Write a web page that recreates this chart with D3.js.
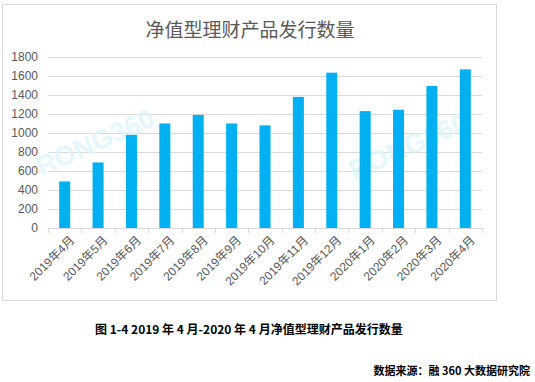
<!DOCTYPE html>
<html>
<head>
<meta charset="utf-8">
<script src="https://cdn.jsdelivr.net/npm/d3@7"></script>
<style>
  body { margin: 0; background: #fff; }
  svg { display: block; font-family: "Liberation Sans", Arial, "Noto Sans CJK SC", sans-serif; }
</style>
</head>
<body>
<svg></svg>
<script>
var width = 535, height = 382;

var months = ["2019年4月", "2019年5月", "2019年6月", "2019年7月", "2019年8月", "2019年9月", "2019年10月",
              "2019年11月", "2019年12月", "2020年1月", "2020年2月", "2020年3月", "2020年4月"];
var counts = [490, 690, 980, 1100, 1190, 1100, 1080, 1380, 1635, 1230, 1245, 1495, 1670];
var yTicks = [0, 200, 400, 600, 800, 1000, 1200, 1400, 1600, 1800];

var margin = {left: 48, right: 53, top: 57, bottom: 154};

var svg = d3.select('svg')
    .attr('width', width)
    .attr('height', height);

// chart frame
svg.append('rect')
    .attr('x', 2.5).attr('y', 4.5)
    .attr('width', 494).attr('height', 296)
    .attr('fill', '#fff')
    .attr('stroke', '#d9d9d9');

var x = d3.scaleBand()
    .domain(months)
    .range([margin.left, width - margin.right])
    .paddingInner(0.67)
    .paddingOuter(0.335);

var y = d3.scaleLinear()
    .domain([0, 1800])
    .range([height - margin.bottom, margin.top]);

// gridlines
svg.append('g')
    .selectAll('line')
    .data(yTicks.slice(1))
    .enter()
    .append('line')
        .attr('x1', margin.left)
        .attr('x2', width - margin.right)
        .attr('y1', d => Math.round(y(d)) + 0.5)
        .attr('y2', d => Math.round(y(d)) + 0.5)
        .attr('stroke', '#d9d9d9');

// y labels
svg.append('g')
    .selectAll('text')
    .data(yTicks)
    .enter()
    .append('text')
        .attr('x', 38)
        .attr('y', d => y(d))
        .attr('dy', '0.35em')
        .attr('text-anchor', 'end')
        .attr('font-size', 12)
        .attr('fill', '#595959')
        .text(d => d);

// watermarks
var marks = [{x: 95, y: 142}, {x: 408, y: 146}];
svg.append('g')
    .selectAll('text')
    .data(marks)
    .enter()
    .append('text')
        .attr('transform', d => `translate(${d.x},${d.y}) rotate(-24)`)
        .attr('text-anchor', 'middle')
        .attr('dy', '0.35em')
        .attr('font-size', 27)
        .attr('font-weight', 'bold')
        .attr('fill', '#def6fd')
        .attr('opacity', 0.8)
        .text('RONG360');

// bars
svg.append('g')
    .selectAll('rect')
    .data(counts)
    .enter()
    .append('rect')
        .attr('x', (d, i) => x(months[i]))
        .attr('y', d => y(d))
        .attr('width', x.bandwidth())
        .attr('height', d => y(0) - y(d))
        .attr('fill', '#00b0f0');

// x axis
var xAxis = d3.axisBottom(x).tickSize(0).tickPadding(0);
var gx = svg.append('g')
    .attr('transform', `translate(0,${y(0)})`)
    .call(xAxis);
gx.select('.domain').attr('stroke', '#d9d9d9').attr('d', `M${margin.left},0.5H${width - margin.right}`);

// tick marks at band edges
var step = x.step();
svg.append('g')
    .selectAll('line')
    .data(d3.range(months.length + 1))
    .enter()
    .append('line')
        .attr('x1', i => Math.round(margin.left + i * step) + 0.5)
        .attr('x2', i => Math.round(margin.left + i * step) + 0.5)
        .attr('y1', y(0))
        .attr('y2', y(0) + 5)
        .attr('stroke', '#d9d9d9');

gx.selectAll('.tick text')
    .attr('font-size', 12)
    .attr('font-family', '"Liberation Sans", Arial, "Noto Sans CJK SC", sans-serif')
    .attr('fill', '#595959')
    .attr('text-anchor', 'end')
    .attr('dy', '0.35em')
    .attr('transform', `translate(${x.bandwidth() / 2 + 2},10) rotate(-45)`)
    .attr('y', 0)
    .attr('x', 0);

// title
svg.append('text')
    .attr('x', 250)
    .attr('y', 37)
    .attr('text-anchor', 'middle')
    .attr('font-size', 19)
    .attr('fill', '#595959')
    .attr('font-family', '"Noto Sans CJK SC", sans-serif')
    .text('净值型理财产品发行数量');

// caption
svg.append('text')
    .attr('x', 95)
    .attr('y', 334)
    .attr('font-size', 12)
    .attr('font-weight', 'bold')
    .attr('fill', '#000')
    .attr('font-family', '"Noto Sans CJK SC", sans-serif')
    .text('图 1-4 2019 年 4 月-2020 年 4 月净值型理财产品发行数量');

svg.append('text')
    .attr('x', 530)
    .attr('y', 375)
    .attr('text-anchor', 'end')
    .attr('font-size', 11)
    .attr('font-weight', 'bold')
    .attr('fill', '#000')
    .attr('font-family', '"Noto Sans CJK SC", sans-serif')
    .text('数据来源：融 360 大数据研究院');
</script>
</body>
</html>
